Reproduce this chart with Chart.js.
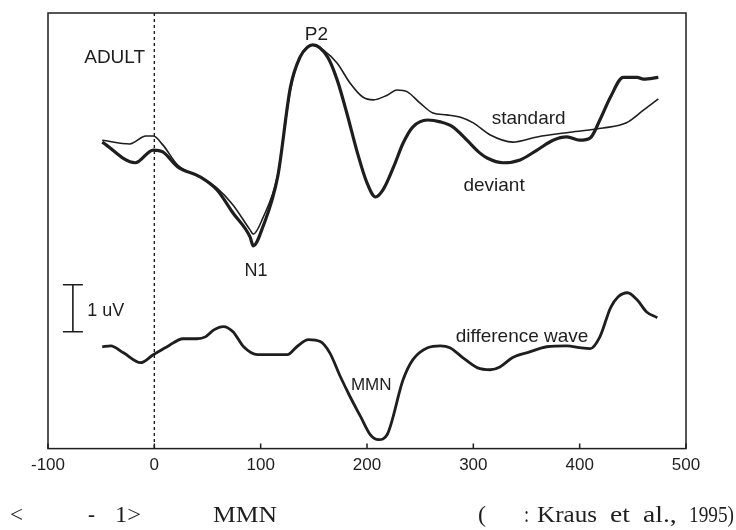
<!DOCTYPE html>
<html>
<head>
<meta charset="utf-8">
<script src="https://cdn.jsdelivr.net/npm/chart.js@4.4.1/dist/chart.umd.min.js"></script>
<style>
  html, body { margin: 0; padding: 0; background: #fff; }
  #wrap { width: 736px; height: 530px; }
</style>
</head>
<body>
<div id="wrap"><canvas id="mmnChart"></canvas></div>
<script>
// ERP waveforms: time in ms, amplitude in uV
const stdTime = [-49, -23, -8, -1, 8, 22, 43, 59, 74, 90, 93, 102, 116, 128, 137, 149, 159, 172, 184, 196, 206, 219, 228, 238, 250, 262, 275, 288, 300, 316, 337, 360, 391, 422, 444, 460, 474];
const stdValues = [6.57, 6.49, 6.66, 6.66, 6.47, 6.04, 5.79, 5.55, 5.19, 4.66, 4.57, 4.91, 5.83, 7.64, 8.34, 8.6, 8.49, 8.21, 7.79, 7.49, 7.43, 7.53, 7.64, 7.6, 7.36, 7.15, 7.11, 7.06, 6.94, 6.68, 6.53, 6.64, 6.74, 6.83, 6.94, 7.21, 7.45];

const devTime = [-49, -18, -1, 8, 22, 43, 59, 74, 90, 93, 102, 116, 128, 137, 144, 149, 163, 172, 181, 191, 200, 208, 215, 225, 234, 243, 257, 269, 281, 294, 306, 313, 328, 344, 360, 375, 388, 400, 410, 419, 429, 441, 454, 460, 474];
const devValues = [6.53, 6.09, 6.36, 6.32, 6.0, 5.79, 5.51, 5.02, 4.51, 4.32, 4.72, 5.79, 7.7, 8.34, 8.55, 8.6, 8.34, 7.85, 7.15, 6.3, 5.66, 5.36, 5.51, 6.0, 6.51, 6.85, 7.0, 6.96, 6.85, 6.57, 6.3, 6.19, 6.09, 6.15, 6.36, 6.57, 6.64, 6.57, 6.62, 7.0, 7.49, 7.91, 7.91, 7.87, 7.91];

const diffTime = [-49, -41, -29, -13, -1, 12, 27, 40, 48, 56, 65, 74, 84, 97, 112, 125, 134, 145, 156, 165, 175, 184, 194, 203, 211, 219, 234, 243, 257, 269, 278, 290, 304, 316, 325, 337, 353, 369, 388, 400, 410, 419, 429, 436, 445, 454, 463, 473];
const diffValues = [2.17, 2.19, 2.04, 1.83, 2.0, 2.17, 2.34, 2.34, 2.38, 2.53, 2.6, 2.49, 2.17, 2.0, 2.0, 2.0, 2.17, 2.32, 2.28, 2.04, 1.53, 1.11, 0.68, 0.3, 0.19, 0.3, 1.47, 1.89, 2.15, 2.19, 2.15, 1.94, 1.72, 1.68, 1.74, 1.94, 2.06, 2.17, 2.19, 2.15, 2.13, 2.38, 3.0, 3.23, 3.32, 3.17, 2.91, 2.79];

const xTicks = [-100, 0, 100, 200, 300, 400, 500];

function toPoints(times, values) {
  return times.map((t, i) => ({ x: t, y: values[i] }));
}

const ink = "#1e1e1e";

// text labels inside the plot, anchored in data coordinates
const plotLabels = [
  { text: "ADULT", t: -8.7, v: 8.33, align: "right", size: 19 },
  { text: "P2", t: 152.5, v: 8.82, align: "center", size: 19 },
  { text: "N1", t: 95.6, v: 3.79, align: "center", size: 18 },
  { text: "standard", t: 352, v: 7.02, align: "center", size: 19 },
  { text: "deviant", t: 319.5, v: 5.6, align: "center", size: 19 },
  { text: "1 uV", t: -63.2, v: 2.94, align: "left", size: 18 },
  { text: "MMN", t: 204, v: 1.35, align: "center", size: 17 },
  { text: "difference wave", t: 345.8, v: 2.39, align: "center", size: 19 },
];

// figure caption under the chart (Korean glyphs are blank in the source scan)
// [text, left x, target width]
const captionParts = [
  ["<", 10, 13], ["-", 88, 7], ["1>", 115, 26], ["MMN", 213, 64],
  ["(", 478, 8], [":", 524, 5], ["Kraus", 537, 60], ["et", 610, 23], ["al.,", 643, 37], ["1995)", 689, 45],
];

const figureDecor = {
  id: "figureDecor",
  afterDatasetsDraw(chart) {
    const { ctx, chartArea: area } = chart;
    const x = chart.scales.x;
    const y = chart.scales.y;
    ctx.save();

    // frame around the plot
    ctx.strokeStyle = ink;
    ctx.lineWidth = 1.5;
    ctx.strokeRect(area.left, area.top, area.right - area.left, area.bottom - area.top);

    // small tick marks pointing into the plot
    ctx.beginPath();
    xTicks.forEach((t) => {
      const px = x.getPixelForValue(t);
      ctx.moveTo(px, area.bottom);
      ctx.lineTo(px, area.bottom - 5);
    });
    ctx.stroke();

    // stimulus onset (dotted line at 0 ms)
    const x0 = x.getPixelForValue(0);
    ctx.setLineDash([3, 3]);
    ctx.lineWidth = 1.4;
    ctx.beginPath();
    ctx.moveTo(x0, area.top);
    ctx.lineTo(x0, area.bottom);
    ctx.stroke();
    ctx.setLineDash([]);

    // 1 uV scale bar
    const bx = x.getPixelForValue(-76.6);
    const bTop = y.getPixelForValue(3.49);
    const bBot = y.getPixelForValue(2.49);
    ctx.lineWidth = 1.6;
    ctx.beginPath();
    ctx.moveTo(bx, bTop); ctx.lineTo(bx, bBot);
    ctx.moveTo(bx - 10, bTop); ctx.lineTo(bx + 10, bTop);
    ctx.moveTo(bx - 10, bBot); ctx.lineTo(bx + 10, bBot);
    ctx.stroke();

    // labels
    ctx.fillStyle = ink;
    ctx.textBaseline = "middle";
    plotLabels.forEach((l) => {
      ctx.font = l.size + "px 'Liberation Sans', Arial, sans-serif";
      ctx.textAlign = l.align;
      ctx.fillText(l.text, x.getPixelForValue(l.t), y.getPixelForValue(l.v));
    });

    // caption, each word squeezed/stretched a little to the width in the scan
    ctx.font = "23px 'Liberation Serif', 'Times New Roman', serif";
    ctx.textAlign = "left";
    captionParts.forEach(([txt, px, w]) => {
      const k = Math.min(1.2, Math.max(0.8, w / ctx.measureText(txt).width));
      ctx.save();
      ctx.translate(px, 516);
      ctx.scale(k, 1);
      ctx.fillText(txt, 0, 0);
      ctx.restore();
    });

    ctx.restore();
  },
};

const ctx = document.getElementById("mmnChart").getContext("2d");
const mmnChart = new Chart(ctx, {
  type: "line",
  data: {
    datasets: [
      {
        label: "standard",
        data: toPoints(stdTime, stdValues),
        borderColor: ink,
        borderWidth: 1.6,
        pointRadius: 0,
        cubicInterpolationMode: "monotone",
      },
      {
        label: "deviant",
        data: toPoints(devTime, devValues),
        borderColor: ink,
        borderWidth: 3.2,
        pointRadius: 0,
        cubicInterpolationMode: "monotone",
      },
      {
        label: "difference wave",
        data: toPoints(diffTime, diffValues),
        borderColor: ink,
        borderWidth: 2.8,
        pointRadius: 0,
        cubicInterpolationMode: "monotone",
      },
    ],
  },
  options: {
    responsive: true,
    maintainAspectRatio: false,
    animation: false,
    layout: {
      padding: { left: 48, right: 50, top: 13, bottom: 47 },
    },
    scales: {
      x: {
        type: "linear",
        min: -100,
        max: 500,
        afterBuildTicks: (axis) => {
          axis.ticks = xTicks.map((v) => ({ value: v }));
        },
        grid: { display: false, drawTicks: false },
        border: { display: false },
        ticks: {
          padding: 7,
          color: ink,
          font: { family: "'Liberation Sans', Arial, sans-serif", size: 17 },
        },
      },
      y: {
        display: false,
        min: 0,
        max: 9.28,
      },
    },
    plugins: {
      legend: { display: false },
      tooltip: { enabled: false },
    },
  },
  plugins: [figureDecor],
});
</script>
</body>
</html>
